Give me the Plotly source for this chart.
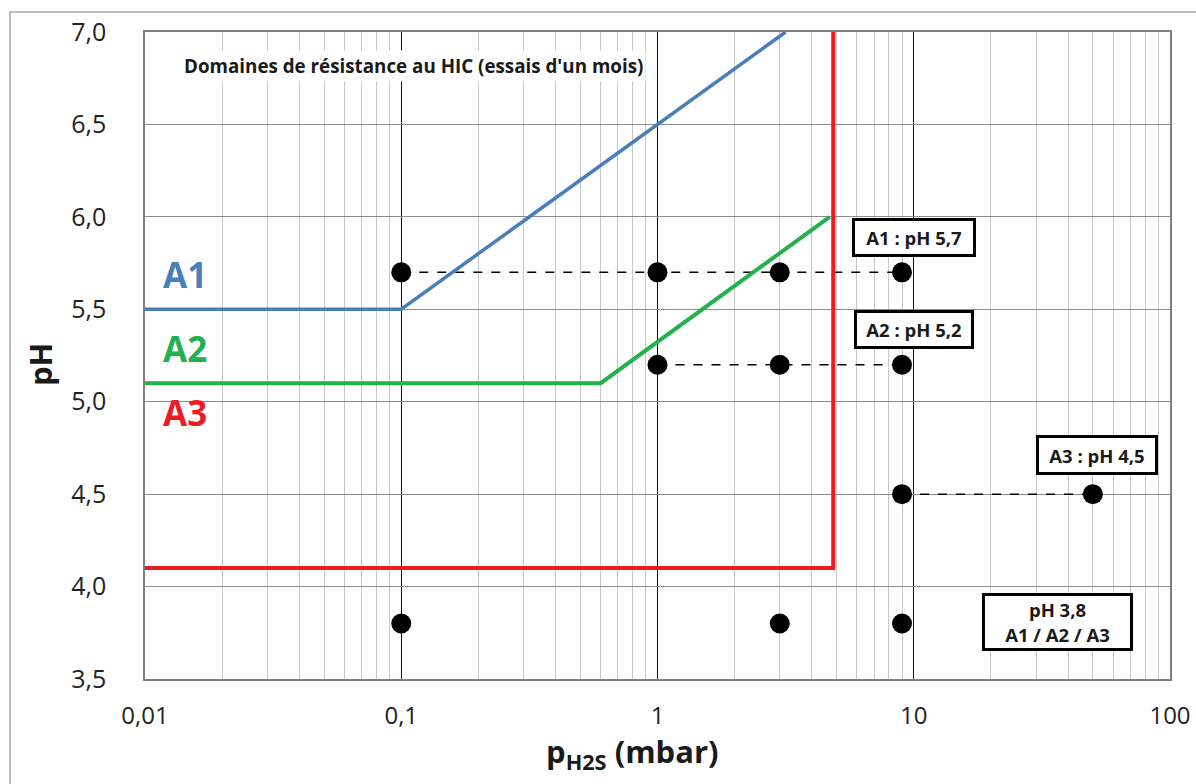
import plotly.graph_objects as go

# ---- data ----
a1_x = [0.01, 0.1, 3.16]
a1_y = [5.5, 5.5, 7.0]
a2_x = [0.01, 0.6, 4.7]
a2_y = [5.1, 5.1, 6.0]
a3_x = [0.01, 4.85, 4.85]
a3_y = [4.1, 4.1, 7.0]

pts_a1_x = [0.1, 1, 3, 9]
pts_a1_y = [5.7, 5.7, 5.7, 5.7]
pts_a2_x = [1, 3, 9]
pts_a2_y = [5.2, 5.2, 5.2]
pts_a3_x = [9, 50]
pts_a3_y = [4.5, 4.5]
pts_38_x = [0.1, 3, 9]
pts_38_y = [3.8, 3.8, 3.8]

x_tickvals = [0.01, 0.1, 1, 10, 100]
x_ticktext = ["0,01", "0,1", "1", "10", "100"]
y_tickvals = [3.5, 4.0, 4.5, 5.0, 5.5, 6.0, 6.5, 7.0]
y_ticktext = ["3,5", "4,0", "4,5", "5,0", "5,5", "6,0", "6,5", "7,0"]

BLUE = "#4a7ebb"
GREEN = "#22b14c"
RED = "#ed1c24"
FONT = "Open Sans"

fig = go.Figure()

for xs, ys in [(pts_a1_x, pts_a1_y), (pts_a2_x, pts_a2_y), (pts_a3_x, pts_a3_y)]:
    fig.add_trace(go.Scatter(x=xs, y=ys, mode="lines",
                             line=dict(color="black", width=1.5, dash="dash"),
                             hoverinfo="skip", showlegend=False))

for xs, ys, c, w in [(a1_x, a1_y, BLUE, 3.5), (a2_x, a2_y, GREEN, 4), (a3_x, a3_y, RED, 4)]:
    fig.add_trace(go.Scatter(x=xs, y=ys, mode="lines", line=dict(color=c, width=w),
                             showlegend=False))

for xs, ys in [(pts_a1_x, pts_a1_y), (pts_a2_x, pts_a2_y), (pts_a3_x, pts_a3_y), (pts_38_x, pts_38_y)]:
    fig.add_trace(go.Scatter(x=xs, y=ys, mode="markers",
                             marker=dict(color="black", size=20),
                             showlegend=False))

annotations = [
    dict(x=0.2615, y=0.947, xref="paper", yref="paper", xanchor="center", yanchor="middle",
         text="<b>Domaines de résistance au HIC (essais d'un mois)</b>",
         showarrow=False, font=dict(family=FONT, size=18.8, color="#1a1a1a"),
         bgcolor="white", borderpad=2),
    dict(x=0.039, y=5.69, xref="paper", yref="y", xanchor="center", yanchor="middle",
         text="<b>A1</b>", showarrow=False,
         font=dict(family=FONT, size=35, color=BLUE)),
    dict(x=0.039, y=5.29, xref="paper", yref="y", xanchor="center", yanchor="middle",
         text="<b>A2</b>", showarrow=False,
         font=dict(family=FONT, size=35, color=GREEN)),
    dict(x=0.039, y=4.94, xref="paper", yref="y", xanchor="center", yanchor="middle",
         text="<b>A3</b>", showarrow=False,
         font=dict(family=FONT, size=35, color=RED)),
    # axis titles
    dict(x=-0.1024, y=0.4853, xref="paper", yref="paper", xanchor="center", yanchor="middle",
         text="<b>pH</b>", textangle=-90, showarrow=False,
         font=dict(family=FONT, size=31, color="#1a1a1a")),
    dict(x=0.4755, y=-0.1144, xref="paper", yref="paper", xanchor="center", yanchor="middle",
         text="<b>p<sub>H2S</sub> (mbar)</b>", showarrow=False,
         font=dict(family=FONT, size=31, color="#1a1a1a")),
]
boxes = [
    (1.0, 5.89, "<b>A1 : pH 5,7</b>", 118, 33),
    (1.0, 5.39, "<b>A2 : pH 5,2</b>", 114, 33),
    (1.715, 4.71, "<b>A3 : pH 4,5</b>", 116, 34),
    (1.562, 3.81, "<b>pH 3,8<br>A1 / A2 / A3</b>", 145, 52),
]
for bx, by, t, w, h in boxes:
    annotations.append(dict(x=bx, y=by, xref="x", yref="y", text=t, showarrow=False,
                            xanchor="center", yanchor="middle",
                            font=dict(family=FONT, size=18.5, color="#1a1a1a"),
                            bgcolor="white", bordercolor="black", borderwidth=3,
                            width=w, height=h, borderpad=0))

fig.update_layout(
    width=1196, height=784,
    margin=dict(l=145, r=26, t=32, b=105, autoexpand=False),
    paper_bgcolor="white", plot_bgcolor="white",
    annotations=annotations,
    showlegend=False,
    shapes=[dict(type="rect", xref="paper", yref="paper",
                 x0=-0.1317, x1=1.1, y0=-0.2, y1=1.031,
                 line=dict(color="#a6a6a6", width=1.5), layer="below")],
)

fig.update_xaxes(
    type="log", range=[-2, 2],
    tickvals=x_tickvals, ticktext=x_ticktext,
    tickfont=dict(family=FONT, size=24, color="#222"),
    ticks="", ticklabelstandoff=14,
    showgrid=True, gridcolor="#111", gridwidth=1,
    minor=dict(dtick="D1", showgrid=True, gridcolor="#c8c8c8", gridwidth=1, ticks=""),
    showline=True, linecolor="#808080", linewidth=1.5, mirror=True,
    zeroline=False, automargin=False,
)
fig.update_yaxes(
    range=[3.5, 7.0],
    tickvals=y_tickvals, ticktext=y_ticktext,
    tickfont=dict(family=FONT, size=25, color="#222"),
    ticks="", ticklabelstandoff=32,
    showgrid=True, gridcolor="#8c8c8c", gridwidth=1,
    showline=True, linecolor="#808080", linewidth=1.5, mirror=True,
    zeroline=False, automargin=False,
)

fig.write_html("out.html", config={"displayModeBar": False},
               post_script="document.body.style.margin='0px';")
